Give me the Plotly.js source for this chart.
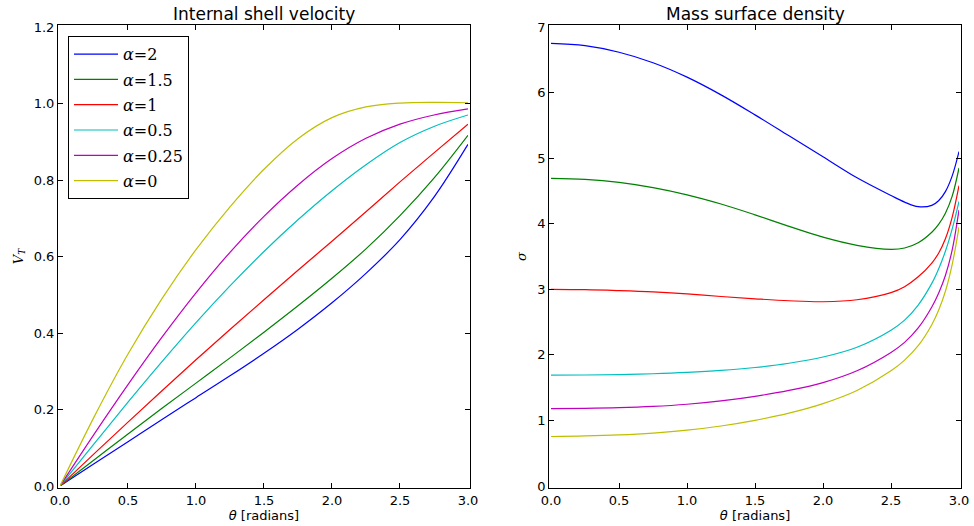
<!DOCTYPE html>
<html>
<head>
<meta charset="utf-8">
<script src="https://cdn.plot.ly/plotly-3.0.1.min.js"></script>
<style>html,body{margin:0;padding:0;background:#fff;}</style>
</head>
<body>
<div id="chart" style="width:974px;height:526px;"></div>
<script>
// ---- data ----
var alphaLabels = ["2", "1.5", "1", "0.5", "0.25", "0"];
var lineColors = ["#0000ff", "#008000", "#ff0000", "#00bfbf", "#bf00bf", "#bfbf00"];

var thetaLeft = [0, 0.25, 0.5, 0.75, 1.0, 1.25, 1.5, 1.75, 2.0, 2.25, 2.5, 2.75, 3.0];
var vtA2   = [0, 0.058, 0.116, 0.174, 0.231, 0.288, 0.347, 0.410, 0.479, 0.556, 0.644, 0.755, 0.893];
var vtA15  = [0, 0.068, 0.136, 0.203, 0.269, 0.335, 0.402, 0.471, 0.543, 0.620, 0.707, 0.805, 0.917];
var vtA1   = [0, 0.084, 0.167, 0.249, 0.330, 0.409, 0.487, 0.564, 0.640, 0.717, 0.795, 0.871, 0.946];
var vtA05  = [0, 0.110, 0.219, 0.325, 0.427, 0.523, 0.613, 0.696, 0.772, 0.840, 0.898, 0.940, 0.970];
var vtA025 = [0, 0.135, 0.265, 0.389, 0.505, 0.611, 0.705, 0.787, 0.856, 0.909, 0.946, 0.970, 0.986];
var vtA0   = [0, 0.180, 0.345, 0.490, 0.618, 0.730, 0.828, 0.908, 0.963, 0.991, 1.001, 1.003, 1.002];

var thetaRight = [0, 0.25, 0.5, 0.75, 1.0, 1.25, 1.5, 1.75, 2.0, 2.25, 2.5, 2.6, 2.7, 2.8, 2.85, 2.9, 2.95, 3.0];
var sigA2   = [6.75, 6.715, 6.615, 6.455, 6.235, 5.965, 5.66, 5.34, 5.02, 4.70, 4.43, 4.33, 4.26, 4.28, 4.35, 4.49, 4.73, 5.10];
var sigA15  = [4.69, 4.675, 4.63, 4.55, 4.44, 4.30, 4.135, 3.96, 3.795, 3.67, 3.61, 3.63, 3.71, 3.87, 3.99, 4.16, 4.42, 4.85];
var sigA1   = [3.00, 2.995, 2.98, 2.96, 2.93, 2.89, 2.855, 2.825, 2.81, 2.84, 2.95, 3.04, 3.19, 3.40, 3.55, 3.77, 4.10, 4.58];
var sigA05  = [1.69, 1.693, 1.70, 1.712, 1.732, 1.762, 1.807, 1.872, 1.967, 2.117, 2.377, 2.53, 2.76, 3.09, 3.31, 3.58, 3.92, 4.34];
var sigA025 = [1.18, 1.184, 1.194, 1.214, 1.247, 1.297, 1.367, 1.457, 1.577, 1.757, 2.037, 2.19, 2.41, 2.73, 2.94, 3.21, 3.60, 4.21];
var sigA0   = [0.755, 0.763, 0.779, 0.807, 0.851, 0.915, 1.001, 1.111, 1.256, 1.456, 1.756, 1.92, 2.14, 2.46, 2.68, 2.97, 3.38, 3.95];

var xTicks = [0, 0.5, 1.0, 1.5, 2.0, 2.5, 3.0];
var yTicksLeft = [0, 0.2, 0.4, 0.6, 0.8, 1.0, 1.2];
var yTicksRight = [0, 1, 2, 3, 4, 5, 6, 7];

var vtSeries = [vtA2, vtA15, vtA1, vtA05, vtA025, vtA0];
var sigSeries = [sigA2, sigA15, sigA1, sigA05, sigA025, sigA0];

// ---- traces ----
var traces = [];
for (var i = 0; i < alphaLabels.length; i++) {
  traces.push({
    x: thetaLeft, y: vtSeries[i], type: 'scatter', mode: 'lines',
    line: {color: lineColors[i], width: 1.2, shape: 'spline', smoothing: 1},
    name: '<i>α</i>=' + alphaLabels[i], legendgroup: 'g' + i,
    xaxis: 'x', yaxis: 'y', hoverinfo: 'skip'
  });
}
for (var j = 0; j < alphaLabels.length; j++) {
  traces.push({
    x: thetaRight, y: sigSeries[j], type: 'scatter', mode: 'lines',
    line: {color: lineColors[j], width: 1.2, shape: 'spline', smoothing: 1},
    name: '<i>α</i>=' + alphaLabels[j], showlegend: false,
    xaxis: 'x2', yaxis: 'y2', hoverinfo: 'skip'
  });
}

var tickFont = {family: 'DejaVu Sans', size: 13, color: '#000'};
function xAxis(domain, anchor) {
  return {
    domain: domain, anchor: anchor, range: [0, 3], autorange: false,
    tickvals: xTicks, tickformat: '.1f',
    ticks: 'inside', ticklen: 5, tickcolor: '#000', tickwidth: 1,
    showline: true, linecolor: '#000', linewidth: 1, mirror: 'allticks',
    showgrid: false, zeroline: false, tickfont: tickFont,
    title: {text: '<i>θ</i> [radians]', font: {family: 'DejaVu Sans', size: 13, color: '#000'}, standoff: 4}
  };
}
function yAxis(range, ticks, fmt, anchor, titleText) {
  return {
    domain: [0, 1], anchor: anchor, range: range, autorange: false,
    tickvals: ticks, tickformat: fmt,
    ticks: 'inside', ticklen: 5, tickcolor: '#000', tickwidth: 1,
    showline: true, linecolor: '#000', linewidth: 1, mirror: 'allticks',
    showgrid: false, zeroline: false, tickfont: tickFont,
    title: {text: titleText, font: {family: 'DejaVu Serif', size: 13, color: '#000'}, standoff: 9}
  };
}

var layout = {
  width: 974, height: 526,
  margin: {l: 60, r: 15, t: 27, b: 40, pad: 2},
  paper_bgcolor: '#fff', plot_bgcolor: '#fff',
  showlegend: true,
  legend: {
    x: 0.0089, y: 0.98, xanchor: 'left', yanchor: 'top',
    bgcolor: '#fff', bordercolor: '#000', borderwidth: 1,
    font: {family: 'DejaVu Serif', size: 16, color: '#000'},
    tracegroupgap: 1.5, traceorder: 'grouped', itemwidth: 44
  },
  xaxis: xAxis([0, 0.4538], 'y'),
  yaxis: yAxis([0, 1.2], yTicksLeft, '.1f', 'x', '<i>V</i><sub><i>T</i></sub>'),
  xaxis2: xAxis([0.5462, 1], 'y2'),
  yaxis2: yAxis([0, 7], yTicksRight, 'd', 'x2', '<i>σ</i>'),
  annotations: [
    {text: 'Internal shell velocity', xref: 'paper', yref: 'paper', x: 0.2269, y: 1, xanchor: 'center', yanchor: 'bottom', yshift: 1, showarrow: false, font: {family: 'DejaVu Sans', size: 17, color: '#000'}},
    {text: 'Mass surface density', xref: 'paper', yref: 'paper', x: 0.7731, y: 1, xanchor: 'center', yanchor: 'bottom', yshift: 1, showarrow: false, font: {family: 'DejaVu Sans', size: 17, color: '#000'}}
  ]
};

Plotly.newPlot('chart', traces, layout, {staticPlot: true, displayModeBar: false});
</script>
</body>
</html>
